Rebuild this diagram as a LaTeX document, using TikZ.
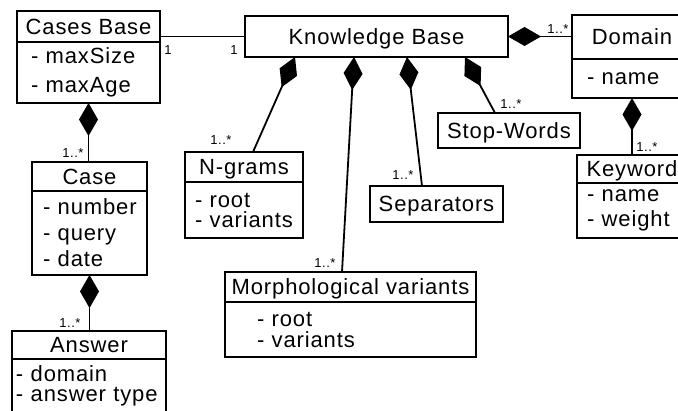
\documentclass[tikz,border=0pt]{standalone}
\usepackage{fontspec}
\newfontfamily\umlfont[LetterSpace=4]{Liberation Sans}
\usetikzlibrary{arrows.meta,positioning,calc}

\begin{document}
\begin{tikzpicture}[
        x=1pt, y=-1pt,
        line width=1.8pt,
        classname/.style={draw, anchor=north west, inner sep=0pt, outer sep=0pt, text height=16pt, text depth=0pt, font=\umlfont\fontsize{22}{26}\selectfont},
        attrs/.style={draw, anchor=north, inner ysep=0pt, outer sep=0pt, align=left, font=\umlfont\fontsize{22}{#1}\selectfont},
        comp/.style={{Diamond[length=33pt,width=19pt]}-},
        mult/.style={font=\umlfont\fontsize{13}{15}\selectfont, inner sep=0pt}
        ]
        \useasboundingbox (0,0) rectangle (678,411);
        \clip (0,0) rectangle (678,411);

        \node[classname, minimum width=143pt, minimum height=31pt] (cbtitle) at (17,11) {Cases Base};
        \node[attrs=29, below=0pt of cbtitle, text width=115pt, inner xsep=14pt, minimum height=61pt] (cbattrs) {- maxSize\\- maxAge};

        \node[classname, minimum width=263pt, minimum height=41pt] (kb) at (245,16) {Knowledge Base};

        \node[classname, minimum width=120pt, minimum height=44pt] (domtitle) at (572,15) {Domain};
        \node[attrs=26, below=0pt of domtitle, text width=90pt, inner xsep=15pt, minimum height=39pt] (domattrs) {- name};

        \node[classname, minimum width=110pt, minimum height=28pt] (kwtitle) at (577,155) {Keyword};
        \node[attrs=25, below=0pt of kwtitle, text width=90pt, inner xsep=10pt, minimum height=55pt] (kwattrs) {- name\\- weight};

        \node[classname, minimum width=142pt, minimum height=35pt] (stopwords) at (438,113) {Stop-Words};
        \node[classname, minimum width=133pt, minimum height=36pt] (separators) at (370,186) {Separators};

        \node[classname, minimum width=118pt, minimum height=30pt] (ngtitle) at (185,152) {N-grams};
        \node[attrs=20, below=0pt of ngtitle, text width=98pt, inner xsep=10pt, minimum height=56pt] (ngattrs) {- root\\- variants};

        \node[classname, minimum width=251pt, minimum height=30pt] (mvtitle) at (225,272) {Morphological variants};
        \node[attrs=21, below=0pt of mvtitle, text width=187pt, inner xsep=32pt, minimum height=55pt] (mvattrs) {- root\\- variants};

        \node[classname, minimum width=115pt, minimum height=29pt] (casetitle) at (32,162) {Case};
        \node[attrs=26, below=0pt of casetitle, text width=93pt, inner xsep=11pt, minimum height=84pt] (caseattrs) {- number\\- query\\- date};

        \node[classname, minimum width=154pt, minimum height=28pt] (anstitle) at (12,331) {Answer};
        \node[attrs=20, below=0pt of anstitle, text width=146pt, inner xsep=4pt, minimum height=54pt] (ansattrs) {- domain\\- answer type};

        \draw (kb.west) -- (kb.west -| cbtitle.east);
        \draw[comp] (kb.east) -- (kb.east -| domtitle.west);
        \draw[comp] ([xshift=-81.5pt]kb.south) -- ([xshift=9pt]ngtitle.north);
        \draw[comp] ([xshift=-22.5pt]kb.south) -- ([xshift=-8.5pt]mvtitle.north);
        \draw[comp] ([xshift=30.5pt]kb.south) -- ([xshift=-14.5pt]separators.north);
        \draw[comp] ([xshift=88.5pt]kb.south) -- ([xshift=-14pt]stopwords.north);
        \draw[comp] (domattrs.south) -- (kwtitle.north);
        \draw[comp] (cbattrs.south) -- (cbattrs.south |- casetitle.north);
        \draw[comp] (caseattrs.south) -- (caseattrs.south |- anstitle.north);

        \node[mult] (m1) at (168,50) {1};
        \node[mult] (m2) at (234,50) {1};
        \node[mult] (m3) at (558,29) {1..*};
        \node[mult] (m4) at (511,104) {1..*};
        \node[mult] (m5) at (647,147) {1..*};
        \node[mult] (m6) at (221,140) {1..*};
        \node[mult] (m7) at (403,175) {1..*};
        \node[mult] (m8) at (325,263) {1..*};
        \node[mult] (m9) at (73,153) {1..*};
        \node[mult] (m10) at (70,323) {1..*};
    \end{tikzpicture}
\end{document}
